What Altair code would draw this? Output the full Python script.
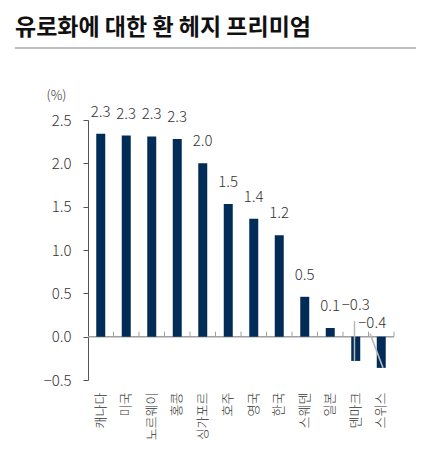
import altair as alt
import pandas as pd

countries = ["캐나다", "미국", "노르웨이", "홍콩", "싱가포르", "호주",
             "영국", "한국", "스웨덴", "일본", "덴마크", "스위스"]
premium = [2.34, 2.32, 2.31, 2.28, 2.00, 1.53, 1.36, 1.17, 0.46, 0.10, -0.28, -0.36]
y_ticks = [-0.5, 0.0, 0.5, 1.0, 1.5, 2.0, 2.5]
title_text = "유로화에 대한 환 헤지 프리미엄"

df = pd.DataFrame({"country": countries, "premium": premium})

FONT = "Noto Sans CJK KR"
INK = "#333333"
NAVY = "#002c57"

x_axis = alt.Axis(labelAngle=270, labelFontSize=13, labelColor=INK, labelPadding=12,
                  domain=False, ticks=False, labelFontWeight=300)
x_scale = alt.Scale(paddingInner=0, paddingOuter=0)
y_scale = alt.Scale(domain=[-0.5, 2.5], nice=False, zero=False)
y_axis = alt.Axis(values=y_ticks, format=".1f", grid=False, domainColor="#555",
                  tickColor="#555", tickSize=5, labelPadding=12, labelFontSize=15,
                  labelFontWeight=300, labelColor=INK, titleAngle=0, titleX=-32,
                  titleY=-18, titleAlign="center", titleFontWeight=300,
                  titleFontSize=13, titleColor=INK)


def xx(band=0.5):
    return alt.X("country:N", sort=countries, title=None, scale=x_scale,
                 axis=x_axis, bandPosition=band)


def yy(field):
    return alt.Y(f"{field}:Q", scale=y_scale, axis=y_axis, title="(%)")


base = alt.Chart(df)

bars = base.mark_bar(size=9, color=NAVY).encode(x=xx(), y=yy("premium"))

zero_line = alt.Chart(pd.DataFrame({"zero": [0]})).mark_rule(
    color="#a0a0a0", strokeWidth=1.5).encode(y=yy("zero"))

# 카테고리 경계의 작은 눈금 (0선 위로)
ticks = base.transform_calculate(zero="0", top="0.058").mark_rule(
    color="#a0a0a0").encode(x=xx(1), y=yy("zero"), y2="top:Q")

lbl = dict(fontSize=15, fontWeight=300, color=INK)

pos_labels = base.transform_filter("datum.premium >= 0").mark_text(
    dy=-22, **lbl).encode(
    x=xx(), y=yy("premium"), text=alt.Text("premium:Q", format=".1f"))

dk = base.transform_filter("datum.country == '덴마크'").transform_calculate(
    zero="0", top="0.18")
ch = base.transform_filter("datum.country == '스위스'").transform_calculate(
    zero="0", top="0.035")

dk_label = dk.mark_text(dy=-32, **lbl).encode(
    x=xx(), y=yy("zero"), text=alt.Text("premium:Q", format=".1f"))
ch_label = ch.mark_text(dx=-9, dy=-14, **lbl).encode(
    x=xx(), y=yy("zero"), text=alt.Text("premium:Q", format=".1f"))

dk_leader = dk.mark_rule(color="#b8b8b8", strokeWidth=1.5).encode(
    x=xx(0.45), y=yy("premium"), y2="top:Q")
ch_leader = ch.mark_rule(color="#b8b8b8", strokeWidth=1.5).encode(
    x=xx(0.57), x2=alt.X2("country:N", bandPosition=0.06),
    y=yy("premium"), y2="top:Q")

title = alt.Chart(pd.DataFrame({"t": [title_text]})).mark_text(
    align="left", baseline="middle", fontSize=23, fontWeight="bold", color="#111111"
).encode(x=alt.value(-73), y=alt.value(-92), text="t:N")

title_rule = alt.Chart(pd.DataFrame({"t": [title_text]})).mark_rule(
    color="#aaaaaa", strokeWidth=1.5).encode(
    x=alt.value(-73), x2=alt.value(328), y=alt.value(-72))

chart = alt.layer(
    zero_line, ticks, bars, pos_labels, dk_leader, ch_leader, dk_label, ch_label,
    title, title_rule,
).properties(
    width=306, height=260, autosize="none",
    padding={"left": 80, "top": 112, "right": 33, "bottom": 74},
).configure_view(stroke=None).configure_axis(
    labelFont=FONT, titleFont=FONT
).configure_text(font=FONT)

chart.save("out.html", embed_options={"renderer": "svg", "actions": False})
